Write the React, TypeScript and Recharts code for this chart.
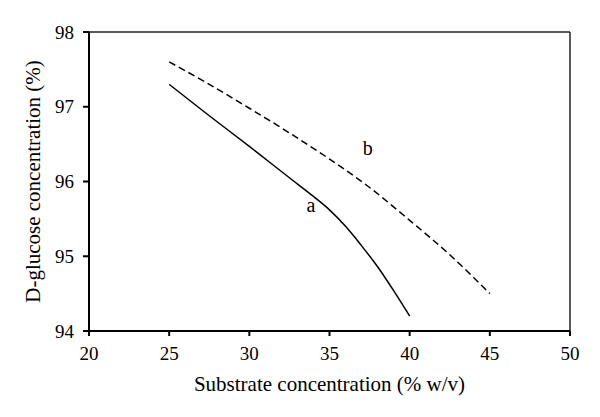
import React from "react";
import {
  LineChart,
  Line,
  XAxis,
  YAxis,
  ReferenceLine,
  ReferenceDot,
  Label
} from "recharts";

const xTicks = [20, 25, 30, 35, 40, 45, 50];
const yTicks = [94, 95, 96, 97, 98];

// curve a (solid)
const aX = [25, 27.5, 30, 32.5, 34, 35, 36, 37, 38, 39, 40];
const aY = [97.3, 96.88, 96.47, 96.05, 95.8, 95.62, 95.4, 95.14, 94.86, 94.54, 94.2];

// curve b (dashed)
const bX = [25, 27.5, 30, 32.5, 35, 37.5, 40, 42.5, 45];
const bY = [97.6, 97.3, 96.98, 96.65, 96.3, 95.92, 95.48, 95.02, 94.5];

const curveLabels = [
  { name: "a", x: 33.85, y: 95.69 },
  { name: "b", x: 37.39, y: 96.45 }
];

const seriesA = aX.map((x, i) => ({ x, y: aY[i] }));
const seriesB = bX.map((x, i) => ({ x, y: bY[i] }));

const font = "'Liberation Serif', 'DejaVu Serif', serif";
const textStyle = { fontFamily: font, fill: "#000" };

const XTick = (props: any) => {
  const { x, y, payload } = props;
  return (
    <text x={x} y={y} dy="0.71em" textAnchor="middle" fontSize={19} style={textStyle}>
      {payload.value}
    </text>
  );
};

const YTick = (props: any) => {
  const { x, y, payload } = props;
  return (
    <text x={x} y={y} dy="0.355em" textAnchor="end" fontSize={19} style={textStyle}>
      {payload.value}
    </text>
  );
};

const YTitle = (props: any) => {
  const vb = props.viewBox || { x: 0, y: 32, width: 89, height: 299 };
  const cx = vb.x + 40;
  const cy = vb.y + vb.height / 2;
  return (
    <text
      x={cx}
      y={cy}
      transform={`rotate(-90, ${cx}, ${cy})`}
      textAnchor="middle"
      fontSize={21}
      style={textStyle}
    >
      D-glucose concentration (%)
    </text>
  );
};

export default function App() {
  return (
    <div style={{ position: "absolute", left: 0, top: 0, background: "#fff", fontFamily: font }}>
      <LineChart
        width={600}
        height={417}
        margin={{ top: 32, right: 30, left: 0, bottom: 0 }}
      >
        <XAxis
          type="number"
          dataKey="x"
          domain={[20, 50]}
          ticks={xTicks}
          allowDataOverflow
          height={86}
          tickSize={5}
          tickMargin={11}
          tick={<XTick />}
          axisLine={{ stroke: "#000", strokeWidth: 2 }}
          tickLine={{ stroke: "#000", strokeWidth: 2 }}
        >
          <Label
            value="Substrate concentration (% w/v)"
            position="insideBottom"
            offset={26}
            fontSize={21}
            fill="#000"
            style={textStyle}
          />
        </XAxis>
        <YAxis
          type="number"
          domain={[94, 98]}
          ticks={yTicks}
          allowDataOverflow
          width={89}
          tickSize={6}
          tickMargin={9}
          tick={<YTick />}
          axisLine={{ stroke: "#000", strokeWidth: 2 }}
          tickLine={{ stroke: "#000", strokeWidth: 2 }}
          label={<YTitle />}
        />
        <ReferenceLine y={98} stroke="#222" strokeWidth={1.5} />
        <ReferenceLine x={50} stroke="#222" strokeWidth={1.5} />
        <Line
          data={seriesB}
          dataKey="y"
          type="monotone"
          stroke="#000"
          strokeWidth={1.5}
          strokeDasharray="7 4"
          dot={false}
          isAnimationActive={false}
        />
        <Line
          data={seriesA}
          dataKey="y"
          type="monotone"
          stroke="#000"
          strokeWidth={1.5}
          dot={false}
          isAnimationActive={false}
        />
        {curveLabels.map((c) => (
          <ReferenceDot
            key={c.name}
            x={c.x}
            y={c.y}
            r={0}
            fill="none"
            stroke="none"
            label={{ value: c.name, position: "center", fontSize: 20, fill: "#000", style: textStyle }}
          />
        ))}
      </LineChart>
    </div>
  );
}
